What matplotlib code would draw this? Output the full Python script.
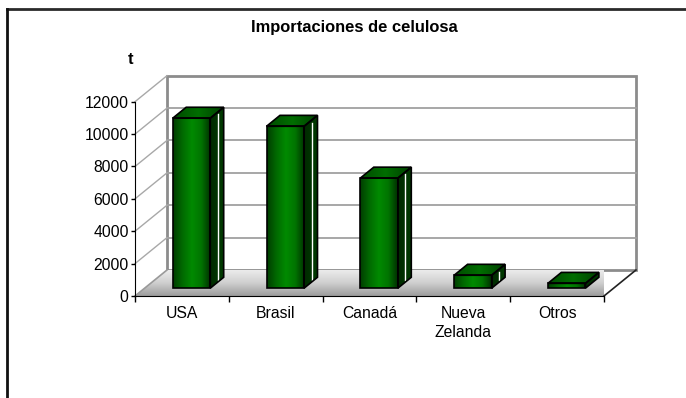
import numpy as np
import matplotlib
matplotlib.use('Agg')
import matplotlib.pyplot as plt
from matplotlib.patches import Polygon
from matplotlib.lines import Line2D
from matplotlib.colors import LinearSegmentedColormap

plt.rcParams['font.family'] = ['Liberation Sans', 'DejaVu Sans']

# data
categories = ['USA', 'Brasil', 'Canadá', 'Nueva\nZelanda', 'Otros']
values = [10500, 10000, 6800, 800, 300]
yticks = [0, 2000, 4000, 6000, 8000, 10000, 12000]

fig = plt.figure(figsize=(6.86, 3.98), dpi=100)
ax = fig.add_axes([135 / 686, 1 - 296 / 398, 469 / 686, 194.3 / 398])
ax.set_xlim(-0.5, 4.5)
ax.set_ylim(0, 12000)

# oblique depth offset, in data units (z=1 is the back wall)
DXC = 0.341
DYV = 1606


def proj(x, v, z):
    return (x + z * DXC, v + z * DYV)


def poly(pts, **kw):
    p = Polygon([proj(*p) for p in pts], closed=True, clip_on=False, **kw)
    ax.add_patch(p)
    return p


def grad_fill(patch, cmap, horizontal=True, n=256, z=1):
    # gradient image clipped to a patch
    xs = [pt[0] for pt in patch.get_xy()]
    ys = [pt[1] for pt in patch.get_xy()]
    g = np.linspace(0, 1, n)
    img = g[None, :] if horizontal else g[:, None]
    im = ax.imshow(img, cmap=cmap, aspect='auto', interpolation='bilinear',
                   extent=[min(xs), max(xs), min(ys), max(ys)], origin='lower',
                   zorder=z)
    im.set_clip_path(patch)
    im.set_clip_box(None)
    return im


x0, x1 = -0.5, 4.5

# back wall
poly([(x0, 0, 1), (x1, 0, 1), (x1, 12000, 1), (x0, 12000, 1)],
     facecolor='white', edgecolor='#8c8c8c', lw=2, zorder=1)
for v in yticks[1:-1]:
    a, b = proj(x0, v, 1), proj(x1, v, 1)
    ax.add_line(Line2D([a[0], b[0]], [a[1], b[1]], color='#a0a0a0', lw=1.3,
                       clip_on=False, zorder=1.1))

# left wall lines
for v in yticks[1:]:
    a, b = proj(x0, v, 0), proj(x0, v, 1)
    ax.add_line(Line2D([a[0], b[0]], [a[1], b[1]], color='#a8a8a8', lw=1,
                       clip_on=False, zorder=1.1))

# floor
floor = poly([(x0, 0, 0), (x1, 0, 0), (x1, 0, 1), (x0, 0, 1)],
             facecolor='none', edgecolor='none', zorder=1.2)
floor_cmap = LinearSegmentedColormap.from_list('floor', ['#9c9c9c', '#d0d0d0', '#eeeeee'])
grad_fill(floor, floor_cmap, horizontal=False, z=1.2)
a, b = proj(x0, 0, 0), proj(x0, 0, 1)
ax.add_line(Line2D([a[0], b[0]], [a[1], b[1]], color='#9a9a9a', lw=1.2,
                   clip_on=False, zorder=1.3))
a, b = proj(x1, 0, 0), proj(x1, 0, 1)
ax.add_line(Line2D([a[0], b[0]], [a[1], b[1]], color='#222222', lw=1.2,
                   clip_on=False, zorder=1.3))

# bars
front_cmap = LinearSegmentedColormap.from_list(
    'front', ['#003d00', '#006a00', '#008a00', '#007400', '#002e00'])
side_cmap = LinearSegmentedColormap.from_list('side', ['#002a00', '#003c00'])
top_cmap = LinearSegmentedColormap.from_list('top', ['#004a00', '#006e00', '#004000'])
w = 0.4
za, zb = 0.3, 0.72
for i, v in enumerate(values):
    l, r = i - w / 2, i + w / 2
    zo = 3 + i
    front = poly([(l, 0, za), (r, 0, za), (r, v, za), (l, v, za)],
                 facecolor='none', edgecolor='black', lw=1.2, zorder=zo + 0.5)
    grad_fill(front, front_cmap, z=zo)
    side = poly([(r, 0, za), (r, 0, zb), (r, v, zb), (r, v, za)],
                facecolor='none', edgecolor='black', lw=1.2, zorder=zo + 0.5)
    grad_fill(side, side_cmap, z=zo)
    top = poly([(l, v, za), (r, v, za), (r, v, zb), (l, v, zb)],
               facecolor='none', edgecolor='black', lw=1.2, zorder=zo + 0.5)
    grad_fill(top, top_cmap, z=zo)
    zm = za + 0.56 * (zb - za)
    a, b = proj(r, 0, zm), proj(r, v, zm)
    ax.add_line(Line2D([a[0], b[0]], [a[1] + 150, b[1] - 150], color='white',
                       lw=1, clip_on=False, zorder=zo + 0.3))

# axes
for s in ['top', 'right']:
    ax.spines[s].set_visible(False)
ax.spines['left'].set_color('black')
ax.spines['bottom'].set_color('black')
ax.spines['left'].set_zorder(20)
ax.spines['bottom'].set_zorder(20)
ax.set_facecolor('none')
ax.set_yticks(yticks)
ax.set_yticklabels([str(t) for t in yticks], fontsize=11.3)
ax.tick_params(axis='y', direction='out', length=3, width=1, pad=1.5)
ax.set_xticks(range(len(categories)))
ax.set_xticklabels(categories, fontsize=11.3, linespacing=1.3)
ax.set_xticks(np.arange(-0.5, 5, 1), minor=True)
ax.tick_params(axis='x', which='major', length=0, pad=7.5)
ax.tick_params(axis='x', which='minor', direction='out', length=4, width=1)

fig.text(354 / 686, 1 - 27.5 / 398, 'Importaciones de celulosa',
         ha='center', va='center', fontsize=11.9, fontweight='bold')
fig.text(131 / 686, 1 - 60 / 398, 't', ha='center', va='center',
         fontsize=11.9, fontweight='bold')

# chart area border (top and left)
fig.add_artist(Line2D([6.5 / 686, 1], [1 - 8.5 / 398] * 2, color='#2a2a2a', lw=2,
                      transform=fig.transFigure))
fig.add_artist(Line2D([6.5 / 686] * 2, [0, 1 - 8.5 / 398], color='#111111', lw=2,
                      transform=fig.transFigure))

fig.savefig('out.png', dpi=100)
